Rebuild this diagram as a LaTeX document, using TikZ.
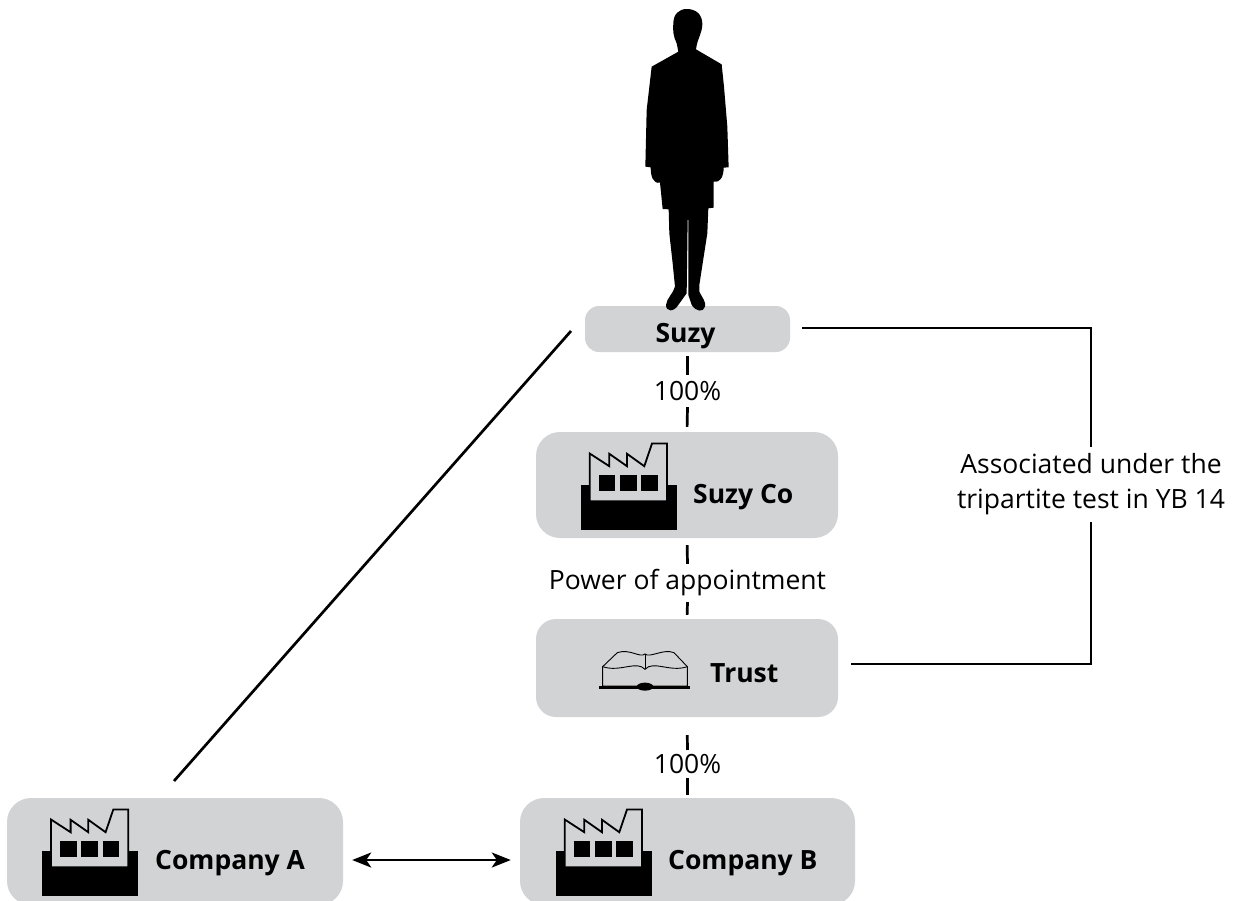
\documentclass[tikz,border=0pt]{standalone}
\usepackage{fontspec}
\setmainfont{Open Sans}
\usetikzlibrary{arrows.meta,positioning,calc}
\definecolor{boxgray}{HTML}{D1D3D4}
\tikzset{
	box/.style = {fill=boxgray, rounded corners=24pt, inner sep=0pt, minimum width=#1},
	boxlabel/.style = {font=\fontsize{26.5}{30}\selectfont\bfseries, inner sep=0pt, anchor=base west},
	edgelabel/.style = {font=\fontsize{26.5}{35}\selectfont, inner sep=0pt, align=center},
	link/.style = {line width=2.7pt, shorten <=5pt, shorten >=5pt},
	factory/.pic = {
		\fill[black] (0,0) rectangle (96,-45);
		\draw[fill=boxgray, line width=1.8pt] (8.7,-28.3) -- (8.7,-76) -- (28.3,-63.3) -- (28.3,-75.7) -- (46,-63.3) -- (46,-75.7)
			-- (63.3,-63.3) -- (71,-86) -- (86,-86) -- (86,-28.3) -- cycle;
		\foreach \w in {17.7,39,60.3}                     % Ventanas
			\fill[black] (\w,-54.3) rectangle ++(16.6,16);
	}
}

\begin{document}
\begin{tikzpicture}[x=1pt, y=-1pt]
	\useasboundingbox (0,0) rectangle (1237,900);

	% Cajas
	\node[box=205pt, minimum height=46pt, rounded corners=14pt] (suzy) at (687.5,329) {};
	\node[box=302pt, minimum height=106pt] (suzyco) at (687,485) {};
	\node[box=302pt, minimum height=98pt, rounded corners=20pt] (trust) at (687,668) {};
	\node[box=336pt, minimum height=107pt] (companyA) at (175,851.5) {};
	\node[box=335pt, minimum height=107pt] (companyB) at (687.5,851.5) {};

	% Silueta
	\begin{scope}[shift={(620,0)}, scale=0.3333]
		\fill[black] (160,70) .. controls (160,42) and (178,27) .. (200,27) .. controls (230,27) and (247,45) .. (247,72)
			.. controls (247,100) and (232,115) .. (228,148)
			-- (305,193) -- (312,260) -- (322,380) -- (326,502) -- (311,503)
			.. controls (311,530) and (300,550) .. (281,545)
			-- (281,623) -- (265,625) -- (262,700) -- (248,790) -- (238,855) -- (238,875)
			.. controls (248,895) and (258,905) .. (255,920) .. controls (250,938) and (228,935) .. (215,915) -- (205,885)
			-- (205,660) -- (203,660) -- (200,880)
			-- (175,915) .. controls (160,938) and (138,935) .. (138,915) .. controls (140,895) and (160,880) .. (165,860)
			-- (158,790) -- (148,700) -- (146,628) -- (128,627) -- (120,548)
			.. controls (100,552) and (92,530) .. (92,502)
			-- (76,500) -- (80,330) -- (95,200) -- (175,155) -- (170,130)
			.. controls (160,110) and (158,90) .. (160,70) -- cycle;
	\end{scope}

	\node[boxlabel, anchor=base] (suzylabel) at (685.5,342) {Suzy};
	\node[boxlabel] (suzycolabel) at (693,503) {Suzy Co};
	\node[boxlabel] (trustlabel) at (710,682) {Trust};
	\node[boxlabel] (companyAlabel) at (155,869) {Company A};
	\node[boxlabel] (companyBlabel) at (668,869) {Company B};

	% Iconos
	\pic at (581,529.5) {factory};
	\pic at (42.3,895.5) {factory};
	\pic at (556,895.5) {factory};
	\begin{scope}[shift={(530,430)}, scale=0.3333]
		\draw[fill=boxgray, line width=.9pt] (218,768) -- (218,710) -- (262,668) .. controls (300,655) and (330,685) .. (345,672)
			.. controls (360,685) and (400,655) .. (432,668) -- (472,710) -- (472,768) -- cycle;
		\draw[line width=.9pt] (218,710) .. controls (270,728) and (320,690) .. (345,718)
			.. controls (370,690) and (420,728) .. (472,710);
		\draw[line width=.9pt] (345,672) -- (345,718);
		\fill[black] (208,768) rectangle (480,778);
		\fill[black] (345,770) ellipse [x radius=25, y radius=12];
	\end{scope}

	% Etiquetas
	\node[edgelabel, minimum height=32pt] (shareA) at (687.5,391) {100\%};
	\node[edgelabel, minimum height=38pt] (power) at (687.5,583) {Power of appointment};
	\node[edgelabel, minimum height=28pt] (shareB) at (687.5,764) {100\%};
	\node[edgelabel, minimum height=75pt] (assoc) at (1091,484.5) {Associated under the\\tripartite test in YB 14};
	\coordinate (diagtop) at (571,331);
	\coordinate (diagend) at (174,781);

	% Conexiones
	\draw[link, shorten >=0pt, shorten <=4pt] (suzy.south) -- (shareA.north);
	\draw[link, shorten <=0pt] (shareA.south) -- (suzyco.north);
	\draw[link, shorten >=0pt, shorten <=7pt] (suzyco.south) -- (power.north);
	\draw[link, shorten <=0pt, shorten >=4pt] (power.south) -- (trust.north);
	\draw[link, shorten >=0pt, shorten <=18pt] (trust.south) -- (shareB.north);
	\draw[link, shorten <=0pt, shorten >=3pt] (shareB.south) -- (companyB.north);
	\draw[link, shorten <=12pt, shorten >=0pt] ([yshift=1pt]suzy.east) -| (assoc.north);
	\draw[link, shorten <=0pt, shorten >=13pt] (assoc.south) |- ([yshift=4pt]trust.east);
	\draw[link, shorten <=0pt, shorten >=0pt] (diagtop) -- (diagend);
	\draw[line width=2.6pt, {Stealth[length=19pt,width=15pt,inset=5pt]}-{Stealth[length=19pt,width=15pt,inset=5pt]}, shorten <=9pt, shorten >=9pt]
		([yshift=-8.5pt]companyA.east) -- ([yshift=-8.5pt]companyB.west);
\end{tikzpicture}
\end{document}
